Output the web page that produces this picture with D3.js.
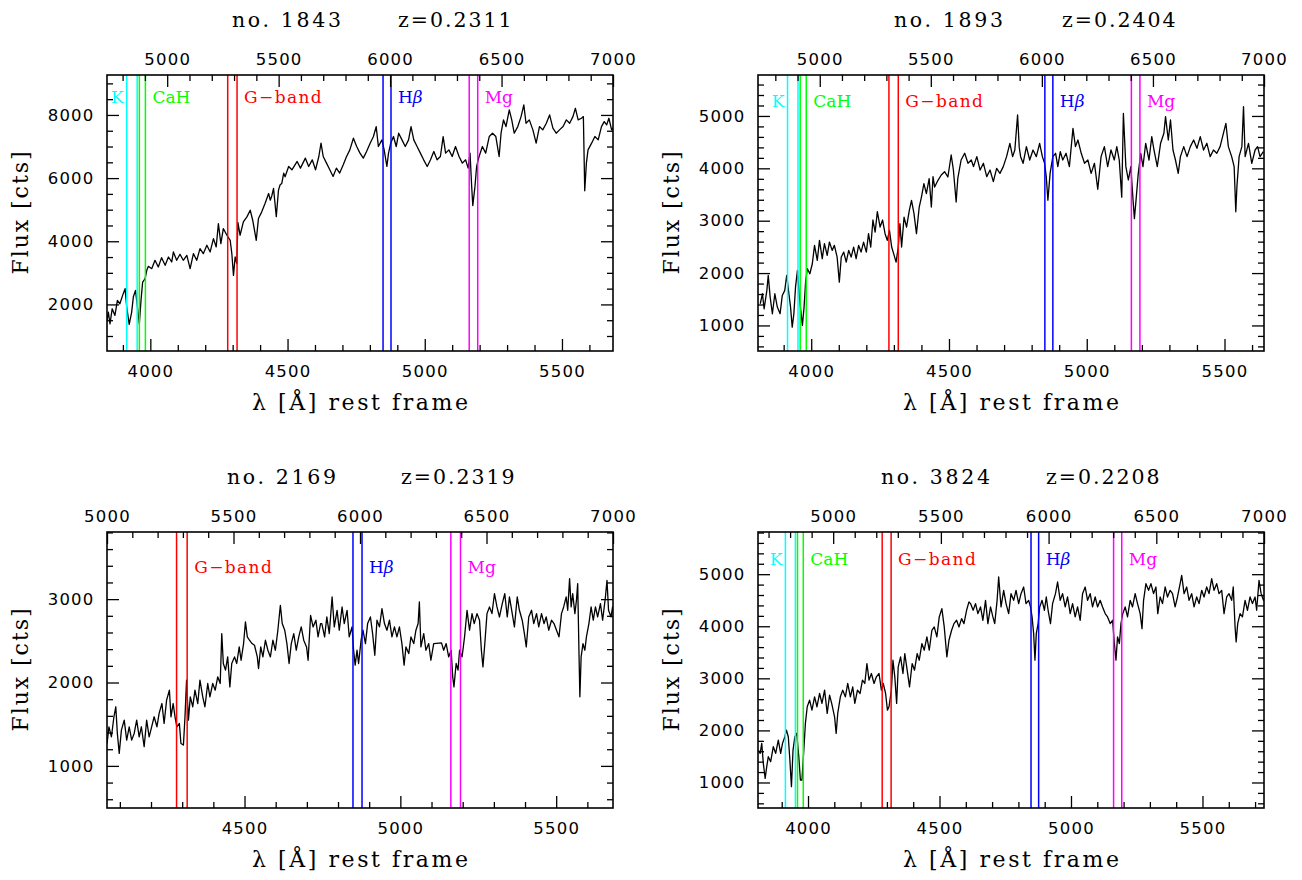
<!DOCTYPE html>
<html>
<head>
<meta charset="utf-8">
<script src="https://cdn.jsdelivr.net/npm/d3@7"></script>
<style>
  body { margin: 0; background: #fff; }
  svg { display: block; }
</style>
</head>
<body>
<svg id="fig" width="1302" height="880"></svg>
<script>
// ---------------------------------------------------------------
// Galaxy spectra (rest-frame wavelength in Å, flux in counts)
// ---------------------------------------------------------------
const galaxyIds = ["1843", "1893", "2169", "3824"];
const redshifts = [0.2311, 0.2404, 0.2319, 0.2208];
const obsStart = [4730, 4722, 5000, 4651];   // observed-frame lower edge of each spectrum
const obsEnd = 7000;                           // observed-frame upper edge
const fluxRanges = [[525, 9265], [512, 5782], [495, 3805], [510, 5810]];
const fluxMajorStep = [2000, 1000, 1000, 1000];
const fluxMinorStep = [500, 200, 200, 200];
const labelFlux = [8380, 5170, 3310, 5170];   // flux level of the feature labels

// Absorption feature windows (rest frame, Å)
const lineNames = ["K", "CaH", "G\u2212band", "H\u03b2", "Mg"];
const lineLo = [3914, 3960, 4282, 4848, 5162];
const lineHi = [3952, 3982, 4316, 4877, 5193];
const lineColors = ["#00ffff", "#00ff00", "#ff0000", "#0000ff", "#ff00ff"];

const wave1843 = [3842,3847,3853,3861,3871,3880,3889,3899,3908,3914,3923,3932,3938,3946,3953,3960,3966,3972,3981,3987,3993,4005,4017,4029,4041,4054,4066,4078,4084,4096,4108,4120,4133,4145,4157,4169,4181,4193,4206,4218,4230,4240,4248,4257,4266,4279,4291,4297,4303,4309,4315,4319,4327,4339,4352,4364,4373,4386,4394,4406,4418,4431,4437,4443,4449,4459,4467,4473,4479,4486,4491,4504,4516,4535,4547,4565,4577,4590,4602,4614,4622,4630,4642,4654,4666,4678,4690,4703,4715,4727,4740,4752,4764,4776,4788,4801,4813,4823,4831,4844,4852,4862,4868,4876,4886,4896,4905,4917,4929,4941,4950,4960,4972,4984,4996,5009,5021,5033,5045,5057,5067,5076,5088,5100,5112,5125,5137,5149,5158,5165,5171,5175,5183,5189,5198,5210,5222,5235,5247,5259,5271,5278,5287,5296,5308,5317,5326,5339,5351,5361,5369,5381,5394,5406,5418,5430,5443,5455,5467,5479,5491,5504,5516,5528,5540,5549,5559,5571,5578,5583,5589,5595,5608,5620,5632,5644,5654,5663,5671,5681,5690];
const flux1843 = [1490,1757,1386,1862,1651,2127,2021,2286,2497,1915,1365,1757,2233,2444,1915,1386,2127,2709,2815,3079,3206,3132,3397,3185,3481,3238,3502,3344,3661,3397,3587,3397,3555,3132,3608,3397,3767,3608,3873,3661,4084,3820,4560,3926,4402,4191,4031,3608,2920,3502,3291,4600,4191,4613,4772,4984,4666,4031,4719,4931,5195,5512,5300,5450,5671,4780,5618,5789,5830,6158,6042,6369,6263,6527,6316,6632,6369,6579,6263,6684,7106,6684,6474,6263,6053,6316,6158,6421,6684,6895,7264,7000,6790,6632,6842,7106,7316,7632,7000,7211,6895,6369,6790,7106,7316,7000,7422,7211,7000,7211,7632,7211,7000,6790,6579,6369,6579,6842,6579,6684,7316,6790,6895,6684,7000,6684,6474,6579,6316,6790,5737,5130,5737,6369,6684,7000,6790,7316,7422,7316,6684,7422,7843,7632,8159,7843,7422,7632,7948,8317,7737,7843,7527,7106,7632,7527,7737,8000,7580,7422,7527,7632,7843,7737,7948,8211,7843,7895,7948,5600,6474,6895,7106,7316,7211,7632,7790,7685,7895,7527,7632];

const wave1893 = [3815,3823,3829,3839,3844,3851,3859,3868,3877,3887,3895,3904,3911,3919,3925,3931,3937,3943,3950,3956,3962,3968,3974,3980,3986,3995,4004,4012,4022,4030,4040,4048,4058,4066,4076,4084,4094,4102,4109,4118,4127,4136,4145,4154,4163,4172,4181,4190,4200,4208,4216,4224,4232,4240,4250,4259,4268,4276,4284,4292,4301,4308,4316,4322,4328,4337,4346,4356,4364,4373,4382,4392,4400,4409,4418,4428,4436,4442,4448,4460,4472,4484,4496,4508,4516,4526,4532,4544,4557,4569,4581,4589,4601,4613,4625,4637,4649,4661,4673,4685,4697,4709,4721,4731,4739,4749,4755,4760,4769,4781,4793,4805,4817,4829,4839,4847,4853,4859,4867,4877,4887,4895,4904,4913,4925,4937,4950,4959,4968,4980,4992,5004,5016,5028,5040,5052,5064,5076,5088,5100,5109,5118,5127,5133,5142,5151,5160,5168,5173,5180,5187,5196,5204,5214,5226,5236,5244,5256,5268,5280,5286,5296,5304,5313,5322,5332,5340,5352,5364,5376,5388,5400,5412,5424,5436,5448,5460,5472,5484,5496,5505,5514,5526,5535,5541,5545,5553,5563,5569,5575,5587,5599,5611,5620,5629,5641];
const flux1893 = [1414,1605,1318,1669,1955,1541,1223,1605,1350,1223,1573,1669,1955,1605,1350,968,1223,1732,2051,1605,1287,1000,1350,1860,2083,1987,2178,2529,2242,2624,2274,2561,2338,2592,2433,2529,2306,1828,2306,2401,2210,2433,2306,2497,2274,2529,2401,2592,2401,2752,2497,3013,2784,3172,2879,3013,2752,2624,2815,2497,2338,2210,2497,2943,2497,3070,2879,3198,3389,3134,2752,3261,3452,3707,3516,3803,3261,3841,3643,3771,3873,3936,3834,4255,3968,3357,3809,4159,4287,4096,4159,4032,4223,3968,4096,3841,3968,3745,4000,3904,4032,4223,4478,4223,4350,5019,4400,4223,4096,4414,4159,4350,4223,4478,4223,4096,3841,3390,3904,4223,4287,4032,4318,4159,4287,4032,4764,4414,4541,4287,4096,4159,3904,4096,3600,4223,4414,4032,4350,4159,4414,4159,3450,5051,4032,3777,4032,3395,3040,3459,3904,4287,4032,4478,4159,4605,4350,4032,4478,4669,4987,4541,4923,4350,4159,3904,4223,4414,4223,4414,4541,4382,4605,4350,4478,4223,4350,4287,4414,4669,4860,4414,4223,4032,3170,3650,4223,4414,5178,4223,4478,4096,4350,4414,4223,4318];

const wave2169 = [4059,4065,4073,4081,4087,4092,4098,4105,4114,4122,4130,4138,4146,4154,4162,4169,4178,4186,4194,4202,4210,4219,4226,4235,4242,4250,4259,4264,4271,4277,4283,4291,4296,4304,4309,4314,4320,4326,4334,4341,4350,4357,4366,4373,4382,4389,4398,4406,4414,4422,4427,4432,4439,4446,4453,4459,4468,4475,4483,4489,4497,4503,4509,4516,4524,4532,4541,4545,4552,4559,4567,4575,4583,4591,4599,4607,4615,4621,4629,4636,4643,4650,4658,4666,4674,4682,4690,4699,4704,4712,4720,4729,4736,4744,4748,4757,4764,4772,4781,4788,4797,4804,4813,4820,4829,4836,4845,4850,4855,4861,4866,4874,4880,4888,4895,4904,4911,4918,4925,4933,4941,4949,4957,4965,4973,4981,4989,4997,5005,5012,5018,5027,5034,5043,5050,5057,5061,5066,5075,5082,5091,5098,5107,5132,5139,5147,5155,5163,5168,5172,5179,5185,5190,5198,5206,5214,5222,5230,5237,5246,5254,5260,5265,5271,5278,5286,5294,5302,5310,5318,5327,5335,5343,5350,5359,5366,5375,5382,5391,5398,5404,5412,5421,5428,5437,5444,5453,5461,5468,5476,5485,5493,5501,5509,5517,5524,5532,5537,5543,5548,5553,5560,5565,5569,5573,5576,5580,5586,5592,5597,5605,5612,5619,5626,5633,5642,5649,5658,5663,5668,5676,5681,5688];
const flux2169 = [1269,1469,1349,1589,1709,1389,1150,1429,1549,1309,1469,1309,1389,1549,1349,1469,1230,1549,1349,1469,1589,1469,1629,1748,1509,1788,1908,1589,1748,1589,1469,1509,1269,1250,1589,2028,1549,1828,1709,1908,1748,2028,1828,1709,1988,1828,1988,1908,2068,1988,2587,2228,2148,2307,1948,2228,2307,2228,2427,2267,2467,2727,2547,2507,2467,2447,2307,2168,2427,2307,2507,2387,2307,2507,2387,2627,2926,2707,2627,2467,2228,2467,2587,2387,2547,2667,2507,2427,2267,2806,2667,2747,2547,2707,2707,2547,2786,2587,3026,2667,2866,2627,2906,2707,2866,2547,2667,2387,2208,2387,2228,2507,2627,2467,2707,2786,2587,2327,2747,2667,2886,2707,2627,2747,2547,2667,2547,2667,2467,2208,2427,2347,2547,2467,2627,2707,2966,2427,2587,2387,2467,2267,2467,2475,2387,2467,2307,2387,2068,1948,2228,2148,2387,2307,2547,2866,2627,2826,2707,2826,2747,2387,2188,2467,2826,2906,2826,3066,2906,2786,2946,3066,2786,3026,2826,2667,3026,2866,2747,2587,2427,2786,2866,2707,2826,2667,2826,2707,2786,2627,2747,2707,2627,2547,2826,2906,3026,2866,3246,2906,3066,2826,2986,3186,2387,1828,2307,2467,2387,2547,2707,2906,2747,2906,2786,2946,2747,3026,3226,2866,2786,2906,2707];

const wave3824 = [3811,3818,3824,3830,3837,3843,3849,3858,3868,3877,3887,3896,3903,3912,3918,3925,3931,3937,3943,3950,3957,3965,3971,3977,3984,3990,3997,4006,4015,4025,4034,4044,4053,4063,4073,4082,4090,4101,4107,4113,4123,4132,4142,4151,4161,4170,4178,4188,4198,4207,4216,4224,4232,4241,4251,4260,4270,4279,4286,4295,4302,4308,4317,4323,4330,4337,4343,4352,4361,4368,4377,4386,4396,4405,4415,4423,4433,4442,4452,4461,4471,4480,4490,4499,4509,4518,4528,4536,4546,4555,4565,4574,4584,4593,4603,4612,4618,4628,4637,4646,4656,4665,4675,4684,4694,4703,4710,4719,4725,4734,4744,4753,4763,4772,4782,4791,4801,4810,4820,4829,4839,4846,4852,4858,4863,4868,4875,4881,4890,4899,4906,4913,4922,4930,4941,4949,4959,4968,4978,4987,4997,5006,5016,5025,5035,5044,5054,5063,5073,5082,5092,5101,5111,5120,5130,5139,5149,5158,5165,5171,5177,5184,5190,5197,5206,5215,5225,5234,5244,5253,5263,5270,5276,5285,5295,5304,5314,5323,5330,5339,5348,5358,5367,5377,5386,5396,5405,5415,5421,5430,5440,5449,5459,5468,5478,5487,5497,5506,5516,5525,5535,5544,5554,5563,5573,5582,5592,5601,5611,5617,5624,5628,5634,5643,5652,5662,5671,5681,5690,5700,5706,5715,5723,5732,5738];
const flux3824 = [1620,1559,1751,1367,1080,1303,1495,1399,1687,1559,1815,1559,1751,1879,2006,1879,1431,920,1623,1879,1942,1495,1048,1048,1623,2134,2454,2581,2390,2645,2454,2709,2518,2773,2326,2677,2518,2262,1942,2326,2645,2773,2645,2901,2645,2837,2518,2773,2709,2965,2901,3284,2965,3093,2901,3029,3093,2773,2901,2709,2390,2454,2773,3348,3029,2518,3221,3412,3093,3476,3157,2837,3284,3157,3476,3348,3668,3540,3796,3540,3923,3987,3796,4179,4339,3987,3412,3732,3923,4051,4115,3987,4147,4051,4307,4467,4435,4307,4435,4243,4371,4115,4498,4051,4371,4179,4051,4498,4946,4371,4690,4435,4243,4626,4498,4690,4435,4626,4754,4435,4498,4371,4179,3859,3348,3859,4051,4371,4498,4307,4562,4307,4051,4435,4626,4850,4498,4626,4371,4562,4243,4435,4179,4371,4115,4626,4754,4498,4626,4371,4562,4371,4498,4371,4243,4179,4051,4115,3668,3348,3796,3668,4051,4243,4371,4179,4498,4371,4626,4435,4243,3955,4498,4818,4690,4818,4626,4754,4243,4562,4435,4754,4562,4690,4626,4371,4562,4818,4978,4626,4754,4498,4626,4371,4562,4435,4690,4562,4754,4626,4914,4690,4818,4626,4690,4243,4562,4626,4498,4754,3987,3700,4051,4243,4179,4498,4307,4562,4435,4562,4307,4882,4626,4498,4562];

const spectra = [
  { wave: wave1843, flux: flux1843 },
  { wave: wave1893, flux: flux1893 },
  { wave: wave2169, flux: flux2169 },
  { wave: wave3824, flux: flux3824 }
];

// ---------------------------------------------------------------
// Layout
// ---------------------------------------------------------------
const PW = 506, PH = 276;
const colX = [107, 758], rowY = [75, 532];
const titleNoOffset = [125, 136, 120, 123];
const titleZOffset = [291, 304, 294, 288];

const serif = "'DejaVu Serif', 'Liberation Serif', serif";
const sans = "'DejaVu Sans', 'Liberation Sans', sans-serif";

const svg = d3.select("#fig");

function stepTicks(lo, hi, step) {
  return d3.range(Math.ceil(lo / step) * step, hi + 1e-6, step);
}

function drawAxis(g, axisFn, scale, major, minor, withLabels, padding, transform) {
  const gMaj = g.append("g").attr("transform", transform)
    .call(axisFn(scale).tickValues(major).tickSizeInner(-12).tickSizeOuter(0)
      .tickPadding(padding).tickFormat(withLabels ? d3.format("d") : ""));
  const gMin = g.append("g").attr("transform", transform)
    .call(axisFn(scale).tickValues(minor).tickSizeInner(-6).tickSizeOuter(0).tickFormat(""));
  [gMaj, gMin].forEach(a => {
    a.select(".domain").remove();
    a.selectAll(".tick line").attr("stroke", "#000").attr("stroke-width", 1.3);
  });
  gMaj.selectAll(".tick text")
    .attr("font-family", sans).attr("font-size", 16.5)
    .attr("letter-spacing", "1.2px").attr("fill", "#000");
  gMaj.attr("font-family", null).attr("font-size", null);
}

galaxyIds.forEach((id, i) => {
  const left = colX[i % 2], top = rowY[Math.floor(i / 2)];
  const z = redshifts[i];
  const restLo = obsStart[i] / (1 + z), restHi = obsEnd / (1 + z);

  const x = d3.scaleLinear().domain([restLo, restHi]).range([0, PW]);
  const xObs = d3.scaleLinear().domain([obsStart[i], obsEnd]).range([0, PW]);
  const y = d3.scaleLinear().domain(fluxRanges[i]).range([PH, 0]);

  const g = svg.append("g").attr("transform", `translate(${left},${top})`);

  const clipId = "clip-" + id;
  g.append("clipPath").attr("id", clipId)
    .append("rect").attr("width", PW).attr("height", PH);

  // spectrum
  const pts = d3.zip(spectra[i].wave, spectra[i].flux);
  g.append("path")
    .datum(pts)
    .attr("clip-path", `url(#${clipId})`)
    .attr("fill", "none")
    .attr("stroke", "#000")
    .attr("stroke-width", 1.3)
    .attr("stroke-linejoin", "round")
    .attr("d", d3.line().x(d => x(d[0])).y(d => y(d[1])));

  // feature windows with their labels
  lineNames.forEach((name, k) => {
    if (lineLo[k] < restLo || lineHi[k] > restHi) return;
    [lineLo[k], lineHi[k]].forEach(v => {
      g.append("line")
        .attr("x1", x(v)).attr("x2", x(v))
        .attr("y1", 0).attr("y2", PH)
        .attr("stroke", lineColors[k]).attr("stroke-width", 1.5);
    });
    const isK = k === 0;
    const t = g.append("text")
      .attr("x", isK ? x(lineLo[k]) - 3 : x(lineHi[k]) + 7)
      .attr("y", y(labelFlux[i]))
      .attr("text-anchor", isK ? "end" : "start")
      .attr("font-family", serif)
      .attr("font-size", 17)
      .attr("fill", lineColors[k]);
    if (name === "H\u03b2") {
      t.append("tspan").text("H");
      t.append("tspan").attr("font-style", "italic").text("\u03b2");
    } else {
      t.text(name);
      if (k === 2) t.attr("letter-spacing", "1.4px");
    }
  });

  // axes: rest frame below, observed frame above, flux on both sides
  const restMajor = stepTicks(restLo, restHi, 500);
  const restMinor = stepTicks(restLo, restHi, 100).filter(v => v % 500 !== 0);
  const obsMajor = stepTicks(obsStart[i], obsEnd, 500);
  const obsMinor = stepTicks(obsStart[i], obsEnd, 100).filter(v => v % 500 !== 0);
  const fMaj = fluxMajorStep[i], fMin = fluxMinorStep[i];
  const fluxMajor = stepTicks(fluxRanges[i][0], fluxRanges[i][1], fMaj);
  const fluxMinor = stepTicks(fluxRanges[i][0], fluxRanges[i][1], fMin).filter(v => v % fMaj !== 0);

  drawAxis(g, d3.axisBottom, x, restMajor, restMinor, true, 14, `translate(0,${PH})`);
  drawAxis(g, d3.axisTop, xObs, obsMajor, obsMinor, true, 10, null);
  drawAxis(g, d3.axisLeft, y, fluxMajor, fluxMinor, true, 12.5, null);
  drawAxis(g, d3.axisRight, y, fluxMajor, fluxMinor, false, 0, `translate(${PW},0)`);

  // frame
  g.append("rect")
    .attr("width", PW).attr("height", PH)
    .attr("fill", "none").attr("stroke", "#000").attr("stroke-width", 1.6);

  // axis titles
  g.append("text")
    .attr("x", PW / 2).attr("y", PH + 59)
    .attr("text-anchor", "middle")
    .attr("font-family", serif).attr("font-size", 22)
    .attr("textLength", 216).attr("lengthAdjust", "spacing")
    .text("\u03bb [\u00c5] rest frame");

  g.append("text")
    .attr("transform", `translate(-79,${PH / 2}) rotate(-90)`)
    .attr("text-anchor", "middle")
    .attr("font-family", serif).attr("font-size", 22)
    .attr("textLength", 123).attr("lengthAdjust", "spacing")
    .text("Flux [cts]");

  // title
  g.append("text")
    .attr("x", titleNoOffset[i]).attr("y", -48)
    .attr("font-family", serif).attr("font-size", 20.5)
    .attr("textLength", 109).attr("lengthAdjust", "spacing")
    .text("no. " + id);
  g.append("text")
    .attr("x", titleZOffset[i]).attr("y", -48)
    .attr("font-family", serif).attr("font-size", 20.5)
    .attr("textLength", 113.5).attr("lengthAdjust", "spacing")
    .text("z=" + z.toFixed(4));
});
</script>
</body>
</html>
